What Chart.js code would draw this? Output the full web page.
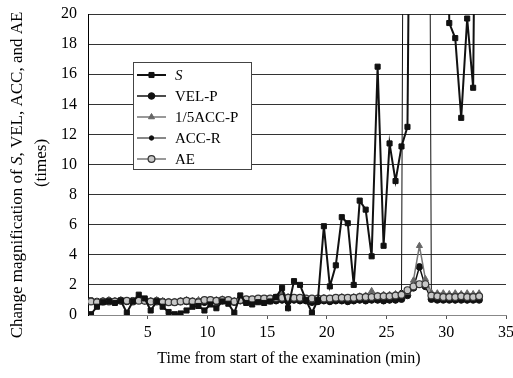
<!DOCTYPE html>
<html>
<head>
<meta charset="utf-8">
<script src="https://cdn.jsdelivr.net/npm/chart.js@4/dist/chart.umd.min.js"></script>
<style>
  html, body { margin: 0; padding: 0; background: #fff; }
  canvas { display: block; }
</style>
</head>
<body>
<canvas id="grafica" width="513" height="378"></canvas>
<script>
// DATOS

const tiempos = [0.25, 0.75, 1.25, 1.75, 2.25, 2.75, 3.25, 3.75, 4.25, 4.75,
    5.25, 5.75, 6.25, 6.75, 7.25, 7.75, 8.25, 8.75, 9.25, 9.75,
    10.25, 10.75, 11.25, 11.75, 12.25, 12.75, 13.25, 13.75, 14.25, 14.75,
    15.25, 15.75, 16.25, 16.75, 17.25, 17.75, 18.25, 18.75, 19.25, 19.75,
    20.25, 20.75, 21.25, 21.75, 22.25, 22.75, 23.25, 23.75, 24.25, 24.75,
    25.25, 25.75, 26.25, 26.75, 27.25, 27.75, 28.25, 28.75, 29.25, 29.75,
    30.25, 30.75, 31.25, 31.75, 32.25, 32.75];

const valoresS = [0.05, 0.55, 0.85, 0.9, 0.8, 0.95, 0.15, 0.9, 1.35, 1.1,
    0.3, 0.9, 0.55, 0.2, 0.05, 0.1, 0.3, 0.55, 0.6, 0.3,
    0.7, 0.45, 0.9, 0.75, 0.15, 1.3, 0.8, 0.7, 0.85, 0.8,
    0.9, 1.2, 1.8, 0.45, 2.25, 2.0, 1.0, 0.15, 1.0, 5.9,
    1.9, 3.3, 6.5, 6.1, 2.0, 7.6, 7.0, 3.9, 16.5, 4.6,
    11.4, 8.9, 11.2, 12.5, 60, 60, 60, 60, 60, 60,
    19.4, 18.4, 13.1, 19.7, 15.1, 60];

const valoresVelP = [0.95, 0.9, 0.9, 0.95, 0.9, 0.95, 0.9, 0.95, 1.0, 0.95,
    0.9, 0.95, 0.9, 0.85, 0.85, 0.9, 0.9, 0.85, 0.9, 0.85,
    0.9, 0.9, 0.95, 0.9, 0.85, 0.95, 0.9, 0.9, 0.95, 0.9,
    0.95, 0.95, 1.0, 0.9, 1.0, 0.95, 0.95, 0.85, 0.9, 0.95,
    0.9, 0.95, 0.95, 0.9, 0.95, 1.0, 0.95, 1.0, 1.0, 0.95,
    1.0, 1.0, 1.05, 1.3, 1.8, 3.2, 1.9, 1.05, 1.0, 1.0,
    1.0, 1.0, 1.0, 1.0, 1.0, 1.0];

const valoresAccP = [0.95, 0.9, 0.95, 1.0, 0.95, 1.0, 0.95, 0.95, 1.05, 1.0,
    0.95, 1.0, 0.95, 0.9, 0.9, 0.95, 1.0, 0.95, 1.0, 0.95,
    1.0, 1.0, 1.05, 1.0, 0.95, 1.05, 1.0, 1.0, 1.05, 1.05,
    1.1, 1.1, 1.5, 1.2, 1.1, 1.15, 1.1, 1.0, 1.1, 1.15,
    1.1, 1.15, 1.2, 1.15, 1.2, 1.25, 1.3, 1.6, 1.3, 1.35,
    1.35, 1.4, 1.4, 1.5, 2.3, 4.6, 2.4, 1.5, 1.45, 1.45,
    1.4, 1.45, 1.4, 1.45, 1.4, 1.45];

const valoresAccR = [0.85, 0.8, 0.85, 0.9, 0.85, 0.9, 0.85, 0.9, 0.95, 0.9,
    0.85, 0.9, 0.85, 0.8, 0.8, 0.85, 0.85, 0.8, 0.85, 0.8,
    0.85, 0.85, 0.9, 0.85, 0.8, 0.9, 0.85, 0.85, 0.9, 0.85,
    0.9, 0.9, 0.95, 0.85, 0.95, 0.9, 0.9, 0.8, 0.85, 0.9,
    0.85, 0.9, 0.9, 0.85, 0.9, 0.95, 0.9, 0.95, 0.95, 0.9,
    0.95, 0.95, 1.5, 100, 100, 100, 100, 1.3, 1.0, 1.0,
    1.0, 0.95, 1.0, 0.95, 1.0, 1.0];

const valoresAE = [0.9, 0.85, 0.9, 0.9, 0.9, 0.95, 0.95, 0.9, 0.95, 0.95,
    0.9, 0.9, 0.85, 0.85, 0.85, 0.9, 0.95, 0.9, 0.85, 1.0,
    1.0, 0.95, 1.0, 1.0, 0.9, 1.0, 1.05, 1.05, 1.1, 1.1,
    1.1, 1.15, 1.15, 1.15, 1.15, 1.15, 1.1, 1.1, 1.1, 1.1,
    1.1, 1.15, 1.15, 1.15, 1.15, 1.2, 1.2, 1.2, 1.25, 1.25,
    1.25, 1.3, 1.35, 1.65, 1.9, 2.05, 2.05, 1.3, 1.25, 1.2,
    1.2, 1.2, 1.25, 1.2, 1.2, 1.25];

const etiquetasSerie = ['S', 'VEL-P', '1/5ACC-P', 'ACC-R', 'AE'];
const ticksX = [5, 10, 15, 20, 25, 30, 35];
const ticksY = [0, 2, 4, 6, 8, 10, 12, 14, 16, 18, 20];

const FUENTE = "'Liberation Serif', 'Times New Roman', serif";
Chart.defaults.font.family = FUENTE;
Chart.defaults.color = '#000';

function puntos(valores) {
    return tiempos.map((t, i) => ({ x: t, y: valores[i] }));
}

// LEYENDA DENTRO DEL GRAFICO
const leyendaPlugin = {
    id: 'leyendaInterna',
    afterDraw(chart) {
        const ctx = chart.ctx;
        const x0 = 133, y0 = 62, w = 118, h = 107;
        ctx.save();
        ctx.fillStyle = '#fff';
        ctx.fillRect(x0, y0, w, h);
        ctx.strokeStyle = '#444';
        ctx.lineWidth = 1;
        ctx.strokeRect(x0 + 0.5, y0 + 0.5, w, h);
        chart.data.datasets.forEach((ds, k) => {
            const y = 75 + k * 21;
            ctx.strokeStyle = ds.borderColor;
            ctx.lineWidth = ds.borderWidth;
            ctx.beginPath();
            ctx.moveTo(137, y);
            ctx.lineTo(166, y);
            ctx.stroke();
            ctx.fillStyle = ds.pointBackgroundColor;
            ctx.strokeStyle = ds.pointBorderColor;
            ctx.lineWidth = ds.pointBorderWidth;
            Chart.helpers.drawPoint(ctx, {
                pointStyle: ds.pointStyle,
                radius: ds.pointRadius,
                rotation: 0,
                borderWidth: ds.pointBorderWidth
            }, 151.5, y);
            ctx.fillStyle = '#000';
            ctx.textBaseline = 'middle';
            ctx.font = (k === 0 ? 'italic ' : '') + '15px ' + FUENTE;
            ctx.fillText(etiquetasSerie[k], 175, y + 1);
        });
        ctx.restore();
    }
};

// TITULOS DE LOS EJES (S en cursiva)
const titulosPlugin = {
    id: 'titulos',
    afterDraw(chart) {
        const ctx = chart.ctx;
        const partes = [
            ['Change magnification of ', ''],
            ['S', 'italic '],
            [', VEL, ACC, and AE', '']
        ];
        ctx.save();
        ctx.fillStyle = '#000';
        ctx.textBaseline = 'middle';

        ctx.font = '16px ' + FUENTE;
        ctx.textAlign = 'center';
        ctx.fillText('Time from start of the examination (min)', 289, 359);

        ctx.translate(18, 175);
        ctx.rotate(-Math.PI / 2);
        ctx.textAlign = 'left';
        let total = 0;
        partes.forEach(p => {
            ctx.font = p[1] + '17px ' + FUENTE;
            total += ctx.measureText(p[0]).width;
        });
        let x = -total / 2;
        partes.forEach(p => {
            ctx.font = p[1] + '17px ' + FUENTE;
            ctx.fillText(p[0], x, 0);
            x += ctx.measureText(p[0]).width;
        });
        ctx.font = '17px ' + FUENTE;
        ctx.textAlign = 'center';
        ctx.fillText('(times)', 12, 24);
        ctx.restore();
    }
};

const ctx = document.getElementById('grafica').getContext('2d');

new Chart(ctx, {
    type: 'line',
    data: {
        datasets: [
            {
                label: etiquetasSerie[0],
                data: puntos(valoresS),
                borderColor: '#111',
                borderWidth: 2,
                pointStyle: 'rect',
                pointRadius: 3.6,
                pointBackgroundColor: '#111',
                pointBorderColor: '#111',
                pointBorderWidth: 1,
                order: 0
            },
            {
                label: etiquetasSerie[1],
                data: puntos(valoresVelP),
                borderColor: '#111',
                borderWidth: 1.5,
                pointStyle: 'circle',
                pointRadius: 3.3,
                pointBackgroundColor: '#111',
                pointBorderColor: '#111',
                pointBorderWidth: 1,
                order: 3
            },
            {
                label: etiquetasSerie[2],
                data: puntos(valoresAccP),
                borderColor: '#777',
                borderWidth: 1.5,
                pointStyle: 'triangle',
                pointRadius: 3.5,
                pointBackgroundColor: '#666',
                pointBorderColor: '#666',
                pointBorderWidth: 1,
                order: 2
            },
            {
                label: etiquetasSerie[3],
                data: puntos(valoresAccR),
                borderColor: '#111',
                borderWidth: 1,
                pointStyle: 'circle',
                pointRadius: 2.2,
                pointBackgroundColor: '#111',
                pointBorderColor: '#111',
                pointBorderWidth: 1,
                order: 4
            },
            {
                label: etiquetasSerie[4],
                data: puntos(valoresAE),
                borderColor: '#999',
                borderWidth: 2,
                pointStyle: 'circle',
                pointRadius: 3.4,
                pointBackgroundColor: '#c8c8c8',
                pointBorderColor: '#333',
                pointBorderWidth: 1.2,
                order: 1
            }
        ]
    },
    options: {
        responsive: false,
        animation: false,
        events: [],
        layout: { padding: { top: 14, right: 7, left: 0, bottom: 0 } },
        elements: { line: { tension: 0 } },
        plugins: {
            legend: { display: false },
            tooltip: { enabled: false }
        },
        scales: {
            x: {
                type: 'linear',
                min: 0,
                max: 35,
                afterBuildTicks(scale) {
                    scale.ticks = ticksX.map(v => ({ value: v }));
                },
                afterFit(scale) {
                    scale.height = 63;
                    scale.paddingLeft = 0;
                    scale.paddingRight = 0;
                },
                ticks: {
                    font: { size: 16 },
                    color: '#000',
                    padding: 4,
                    maxRotation: 0
                },
                grid: {
                    drawOnChartArea: false,
                    drawTicks: true,
                    tickLength: 4,
                    color: '#555'
                },
                border: { color: '#888', width: 1 }
            },
            y: {
                min: 0,
                max: 20,
                afterBuildTicks(scale) {
                    scale.ticks = ticksY.map(v => ({ value: v }));
                },
                afterFit(scale) {
                    scale.width = 88;
                    scale.paddingTop = 0;
                    scale.paddingBottom = 0;
                },
                ticks: {
                    font: { size: 16 },
                    color: '#000',
                    padding: 11
                },
                grid: {
                    color: '#333',
                    lineWidth: 1,
                    drawTicks: false
                },
                border: { color: '#000', width: 1 }
            }
        }
    },
    plugins: [leyendaPlugin, titulosPlugin]
});
</script>
</body>
</html>
